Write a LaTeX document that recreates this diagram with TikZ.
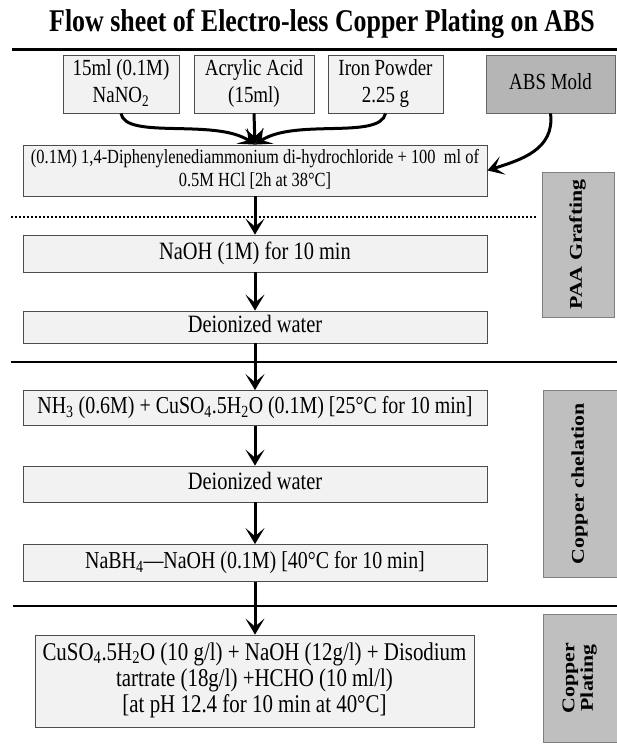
\documentclass[tikz,border=0pt]{standalone}
\usepackage{graphicx}
\usepackage{fontspec}
\setmainfont{Liberation Serif}
\usetikzlibrary{arrows.meta}

\definecolor{boxfill}{HTML}{F2F2F2}
\definecolor{sidefill}{HTML}{BFBFBF}
\definecolor{sideline}{HTML}{7F7F7F}

\newcommand{\tall}[1]{\scalebox{1}[1.22]{\begin{tabular}{@{}c@{}}#1\end{tabular}}}
\newcommand{\wide}[1]{\scalebox{1.22}[1]{\begin{tabular}{@{}c@{}}#1\end{tabular}}}

\begin{document}
\begin{tikzpicture}[x=1bp,y=-1bp,
  stepbox/.style={draw=black!70,fill=boxfill,line width=0.8bp,inner sep=0pt,align=center},
  sidebox/.style={draw=sideline,fill=sidefill,line width=0.8bp,inner sep=0pt},
  sidetext/.style={rotate=90,inner sep=0pt,font=\fontsize{18}{20}\selectfont\bfseries},
  flow/.style={line width=3bp,-{Stealth[length=16bp,width=19bp,inset=8bp]}},
  bar/.style={line width=2.5bp}]
\useasboundingbox (0,0) rectangle (617,746);

\node[font=\fontsize{26}{30}\selectfont\bfseries] (title) at (322,24) {\tall{Flow sheet of Electro-less Copper Plating on ABS}};

\coordinate (t1) at (12,49.5);
\coordinate (t2) at (617,49.5);
\draw[bar] (t1) -- (t2);

\node[stepbox,minimum width=116bp,minimum height=58bp,font=\fontsize{19}{22}\selectfont] (nano) at (121,84) {\tall{15ml (0.1M)\\NaNO\textsubscript{2}}};
\node[stepbox,minimum width=120bp,minimum height=58bp,font=\fontsize{19}{22}\selectfont] (acry) at (254,84) {\tall{Acrylic Acid\\(15ml)}};
\node[stepbox,minimum width=115bp,minimum height=58bp,font=\fontsize{19}{22}\selectfont] (iron) at (385.5,84) {\tall{Iron Powder\\2.25 g}};
\node[stepbox,draw=black!60,fill=sidefill!95!black,minimum width=129bp,minimum height=58bp,font=\fontsize{19}{22}\selectfont] (abs) at (550.5,84) {\tall{ABS Mold}};

\node[stepbox,minimum width=464bp,minimum height=51bp,font=\fontsize{16.5}{19}\selectfont] (diaz) at (255,170.5) {\tall{(0.1M) 1,4-Diphenylenediammonium di-hydrochloride + 100~ ml of\\0.5M HCl [2h at 38°C]}};

\draw[flow] (nano.south) .. controls (125,140) and (215,118) .. (diaz.north);
\draw[flow] (acry.south) -- (diaz.north);
\draw[flow] (iron.south) .. controls (380,140) and (295,118) .. (diaz.north);
\draw[flow] (abs.south) .. controls (555,150) and (520,160) .. (diaz.east);

\coordinate (d1) at (11,217);
\coordinate (d2) at (537,217);
\draw[line width=2bp,dotted] (d1) -- (d2);

\node[stepbox,minimum width=464bp,minimum height=37bp,font=\fontsize{20.5}{24}\selectfont] (naoh) at (255,253.5) {\tall{NaOH (1M) for 10 min}};
\node[stepbox,minimum width=464bp,minimum height=32bp,font=\fontsize{20.5}{24}\selectfont] (dw1) at (255,327) {\tall{Deionized water}};
\draw[flow] (diaz) -- (naoh);
\draw[flow] (naoh) -- (dw1);

\node[sidebox,minimum width=72bp,minimum height=145bp] (paa) at (578,244.5) {};
\node[sidetext] at (paa.center) {\wide{PAA Grafting}};

\coordinate (m1) at (11,362);
\coordinate (m2) at (617,362);
\draw[bar] (m1) -- (m2);

\node[stepbox,minimum width=464bp,minimum height=35bp,font=\fontsize{20}{24}\selectfont] (cuam) at (255,408) {\tall{NH\textsubscript{3} (0.6M) + CuSO\textsubscript{4}.5H\textsubscript{2}O (0.1M) [25°C for 10 min]}};
\node[stepbox,minimum width=464bp,minimum height=36bp,font=\fontsize{20.5}{24}\selectfont] (dw2) at (255,484) {\tall{Deionized water}};
\node[stepbox,minimum width=464bp,minimum height=37bp,font=\fontsize{20}{24}\selectfont] (nabh) at (255,563) {\tall{NaBH\textsubscript{4}—NaOH (0.1M) [40°C for 10 min]}};
\draw[flow] (dw1) -- (cuam);
\draw[flow] (cuam) -- (dw2);
\draw[flow] (dw2) -- (nabh);

\node[sidebox,minimum width=74bp,minimum height=187bp] (chel) at (580,483.5) {};
\node[sidetext] at (chel.center) {\wide{Copper chelation}};

\coordinate (b1) at (13,606);
\coordinate (b2) at (617,606);
\draw[bar] (b1) -- (b2);

\node[stepbox,minimum width=439bp,minimum height=92bp,font=\fontsize{21}{21.5}\selectfont] (plate) at (254.5,681) {\tall{CuSO\textsubscript{4}.5H\textsubscript{2}O (10 g/l) + NaOH (12g/l) + Disodium\\tartrate (18g/l) +HCHO (10 ml/l)\\{}[at pH 12.4 for 10 min at 40°C]}};
\draw[flow] (nabh.south) -- (nabh.south |- plate.north);

\node[sidebox,minimum width=74bp,minimum height=128bp] (cupl) at (580,678) {};
\node[sidetext,font=\fontsize{18}{18.5}\selectfont\bfseries] at (cupl.center) {\wide{Copper\\Plating}};
\end{tikzpicture}
\end{document}
